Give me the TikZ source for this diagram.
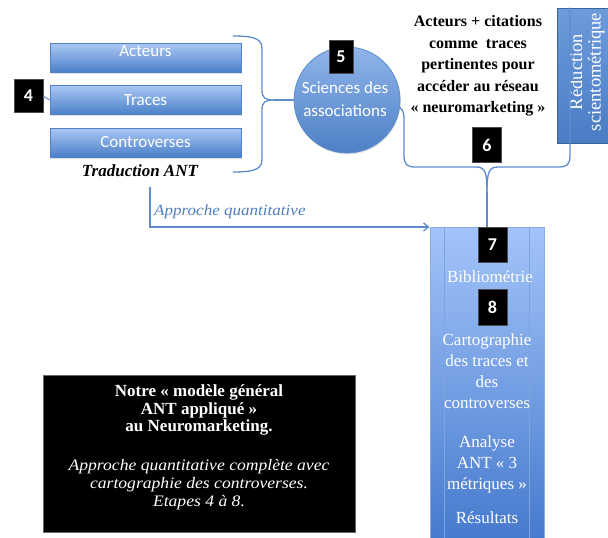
\documentclass[tikz,border=0pt]{standalone}
\usepackage{fontspec}
\setmainfont{Liberation Serif}
\newfontfamily\calib{Carlito}
\newfontfamily\widefont[FakeStretch=1.1]{Liberation Serif}
\usetikzlibrary{shadows,arrows.meta}
\definecolor{barTop}{HTML}{A9C7F5}
\definecolor{barBot}{HTML}{4A7FC8}
\definecolor{barBorder}{HTML}{4F82C6}
\definecolor{linkBlue}{HTML}{5E8DCB}
\definecolor{colTop}{HTML}{A3C4FA}
\definecolor{colBot}{HTML}{467ACD}
\definecolor{colLine}{HTML}{7DA4DE}
\definecolor{circTop}{HTML}{8FB5EA}
\definecolor{circBot}{HTML}{4E80C6}
\definecolor{redLeft}{HTML}{6D9BDC}
\definecolor{redRight}{HTML}{4A7CC4}
\definecolor{labBlue}{HTML}{4F7FC0}
\begin{document}
\begin{tikzpicture}[x=1pt,y=-1pt,
  bar/.style={draw=barBorder, line width=0.8pt, top color=barTop, bottom color=barBot,
    minimum width=191pt, minimum height=29pt, inner sep=0pt, text=white,
    font=\calib\fontsize{17}{20}\selectfont,
    drop shadow={opacity=0.25, shadow xshift=1pt, shadow yshift=-1.5pt}},
  num/.style={fill=black, draw=black!70, text=white, font=\calib\bfseries\fontsize{18}{20}\selectfont,
    minimum width=29pt, minimum height=33pt, inner sep=0pt},
  link/.style={draw=linkBlue, line width=1.3pt},
  coltext/.style={text=white, align=center, font=\fontsize{17}{21}\selectfont, inner sep=0pt},
]
\useasboundingbox (0,0) rectangle (608,538);
\clip (0,0) rectangle (608,538);

% left bars
\node[bar] (act) at (145.5,58) {};
\node[text=white, font=\calib\fontsize{17}{20}\selectfont] (acttxt) at (145.5,51) {Acteurs};
\node[bar] (tr) at (145.5,100) {Traces};
\node[bar] (con) at (145.5,142.5) {Controverses};
\node[num] (n4) at (28.5,96) {4};
\draw[link, line width=1pt] (n4.east) -- (tr.west);
\node[font=\bfseries\itshape\fontsize{17}{20}\selectfont, inner sep=0pt] (trad) at (140,171) {Traduction ANT};

% circle
\node[circle, draw=linkBlue, line width=0.8pt, top color=circTop, bottom color=circBot,
  minimum size=106pt, inner sep=0pt, drop shadow={opacity=0.2, shadow xshift=1pt, shadow yshift=-1.5pt}] (sci) at (347,100) {};
\node[text=white, align=center, font=\calib\fontsize{17}{23}\selectfont, inner sep=0pt] (scitxt) at (345,99) {Sciences des\\associations};
\node[num, minimum width=24pt] (n5) at (341,56.5) {5};

% left brace
\coordinate (b1top) at (233,36);
\coordinate (b1bot) at (233,172);
\coordinate (b1tip) at (274,100);
\draw[link] (b1top) .. controls (258,36) and (262,40) .. (262,50) -- (262,90)
   .. controls (262,98) and (265,100) .. (b1tip);
\draw[link] (b1bot) .. controls (258,172) and (262,168) .. (262,158) -- (262,110)
   .. controls (262,102) and (265,100) .. (b1tip);
\draw[link] (b1tip) -- (sci.west);

% upper right text
\node[align=center, font=\bfseries\fontsize{16}{21.5}\selectfont, inner sep=0pt] (cit) at (478,66)
  {Acteurs + citations\\comme\ \ traces\\pertinentes pour\\accéder au réseau\\« neuromarketing »};

% reduction box
\node[rotate=90, draw=redRight!80!black, line width=0.6pt, top color=redLeft, bottom color=redRight,
  minimum width=135pt, minimum height=58pt, inner sep=0pt] (red) at (586,75.5) {};
\node[rotate=90, text=white, align=center, font=\fontsize{18.5}{18.5}\selectfont, inner sep=0pt] (redtxt) at (587,72)
  {Réduction\\scientométrique};

% column
\node[draw=colLine!90!white, line width=0.8pt, top color=colTop, bottom color=colBot,
  minimum width=114pt, minimum height=313pt, inner sep=0pt, anchor=north] (col) at (487,227) {};
\draw[colLine, line width=1pt] ([xshift=15pt]col.north west) -- ([xshift=15pt]col.south west);
\draw[colLine, line width=1pt] ([xshift=-15pt]col.north east) -- ([xshift=-15pt]col.south east);

\node[num, minimum height=35pt] (n6) at (487,145) {6};
\node[num, minimum height=35pt] (n7) at (492.5,244.5) {7};
\node[coltext] (bib) at (490,277) {Bibliométrie};
\node[num, minimum height=36pt] (n8) at (492.5,307) {8};
\node[coltext] (carto) at (487,371) {Cartographie\\des traces et\\des\\controverses};
\node[coltext] (ana) at (487,464) {Analyse\\ANT « 3\\métriques »};
\node[coltext] (res) at (487,518) {Résultats};

% right brace
\coordinate (b2tip) at (487,192);
\draw[link] (sci.-8) .. controls (404,112) .. (404,125) -- (404,155)
   .. controls (404,165) and (407,167) .. (416,167) -- (476,167)
   .. controls (485,167) and (487,172) .. (b2tip);
\draw[link] ([xshift=13pt]red.north east) -- (570,155)
   .. controls (570,165) and (567,167) .. (558,167) -- (498,167)
   .. controls (489,167) and (487,172) .. (b2tip);
\draw[link] (b2tip) -- (col.north);

% approche quantitative arrow
\draw[link, -{Straight Barb[length=5pt,width=8pt]}] ([xshift=10pt]trad.south) ++(0,10) |- (col.north west);
\node[text=labBlue, font=\widefont\itshape\fontsize{15.5}{18}\selectfont, inner sep=0pt, anchor=west] (aq) at (154,212) {Approche quantitative};

% black box
\node[fill=black, draw=black!60, minimum width=312pt, minimum height=157pt, inner sep=0pt] (bb) at (199,453.5) {};
\node[text=white, align=center, font=\bfseries\fontsize{17}{17.5}\selectfont, inner sep=0pt] (bbt) at (199,410) {Notre « modèle général\\ANT appliqué »\\au Neuromarketing.};
\node[text=white, align=center, font=\widefont\itshape\fontsize{16}{18}\selectfont, inner sep=0pt] (bbi) at (199,485) {Approche quantitative complète avec\\cartographie des controverses.\\Etapes 4 à 8.};
\end{tikzpicture}
\end{document}
